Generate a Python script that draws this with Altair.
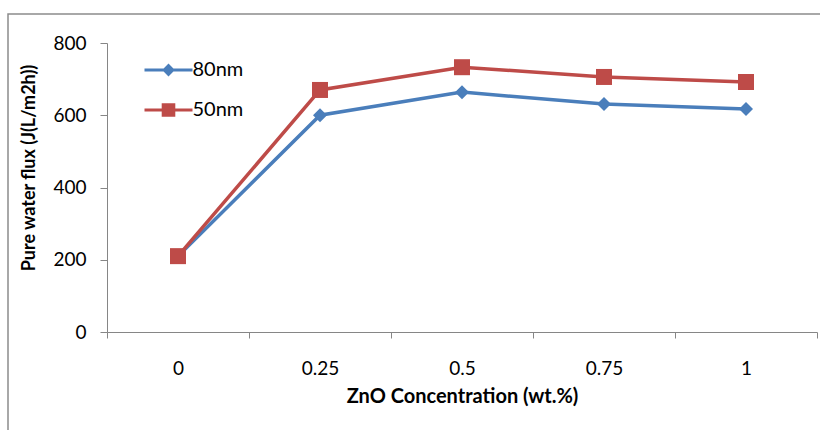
import altair as alt
import pandas as pd

concentrations = ["0", "0.25", "0.5", "0.75", "1"]
flux_80nm = [210, 600, 664, 631, 617]
flux_50nm = [210, 670, 733, 706, 692]
series = ["80nm", "50nm"]
colors = ["#4A7EBB", "#BE4B48"]
marker_shapes = ["diamond", "square"]
marker_sizes = [196, 256]
legend_paths = [
    "M-2.4,-0.15H2.4V0.15H-2.4Z M0,-0.64L0.64,0L0,0.64L-0.64,0Z",
    "M-2.4,-0.15H2.4V0.15H-2.4Z M-0.68,-0.68H0.68V0.68H-0.68Z",
]

rows = []
for s, vals in zip(series, [flux_80nm, flux_50nm]):
    for c, v in zip(concentrations, vals):
        rows.append({"conc": c, "flux": v, "series": s})
df = pd.DataFrame(rows)

FONT = "Lato"
AXIS_GRAY = "#868686"

x_enc = alt.X(
    "conc:O",
    sort=concentrations,
    bandPosition=0.5,
    scale=alt.Scale(type="band", paddingInner=0, paddingOuter=0),
    axis=alt.Axis(
        title="ZnO Concentration (wt.%)",
        tickBand="extent",
        labelAngle=0,
        domainColor=AXIS_GRAY,
        tickColor=AXIS_GRAY,
        tickSize=6,
        labelPadding=21,
        labelFontSize=19,
        labelFont=FONT,
        labelColor="#000000",
        titleFont=FONT,
        titleFontSize=20,
        titleFontWeight="bold",
        titleColor="#000000",
        titlePadding=8,
        grid=False,
    ),
)
y_enc = alt.Y(
    "flux:Q",
    scale=alt.Scale(domain=[0, 800]),
    axis=alt.Axis(
        title="Pure water flux (J(L/m2h))",
        values=[0, 200, 400, 600, 800],
        domainColor=AXIS_GRAY,
        tickColor=AXIS_GRAY,
        tickSize=7,
        labelPadding=14,
        labelFontSize=19,
        labelFont=FONT,
        labelColor="#000000",
        titleFont=FONT,
        titleFontSize=18,
        titleFontWeight="bold",
        titleColor="#000000",
        titlePadding=14,
        titleY=124.5,
        grid=False,
    ),
)

color_main = alt.Color("series:N", scale=alt.Scale(domain=series, range=colors), legend=None)

frame = alt.Chart(pd.DataFrame({"a": [0]})).mark_rect(
    fill="transparent", stroke="#8C8C8C", strokeWidth=1.5
).encode(
    x=alt.value(-99), x2=alt.value(1000), y=alt.value(-29), y2=alt.value(600)
)

lines = alt.Chart(df).mark_line(strokeWidth=3.5).encode(
    x=x_enc, y=y_enc, color=color_main, detail="series:N"
)

points = alt.Chart(df).mark_point(filled=True, opacity=1).encode(
    x=x_enc,
    y=y_enc,
    color=color_main,
    shape=alt.Shape("series:N", scale=alt.Scale(domain=series, range=marker_shapes), legend=None),
    size=alt.Size("series:N", scale=alt.Scale(domain=series, range=marker_sizes), legend=None),
)

legend_def = dict(
    orient="none",
    legendX=51.5,
    legendY=17,
    title=None,
    symbolSize=400,
    symbolStrokeWidth=0,
    symbolOpacity=1,
    labelFont=FONT,
    labelFontSize=20,
    labelColor="#000000",
    labelOffset=14,
    rowPadding=20,
    padding=0,
)

legend_layer = alt.Chart(df).transform_filter("false").mark_point(
    filled=True, opacity=1, size=400
).encode(
    color=alt.Color("series:N", scale=alt.Scale(domain=series, range=colors), legend=alt.Legend(**legend_def)),
    shape=alt.Shape("series:N", scale=alt.Scale(domain=series, range=legend_paths), legend=alt.Legend(**legend_def)),
)

chart = alt.layer(frame, lines, points, legend_layer).resolve_scale(
    color="independent", shape="independent"
).properties(
    width=710,
    height=289,
    padding={"left": 107, "top": 43, "right": 3, "bottom": 98},
    autosize=alt.AutoSizeParams(type="none"),
    background="#FFFFFF",
).configure_view(stroke=None)

chart.save("out.html", embed_options={"renderer": "svg", "actions": False})
